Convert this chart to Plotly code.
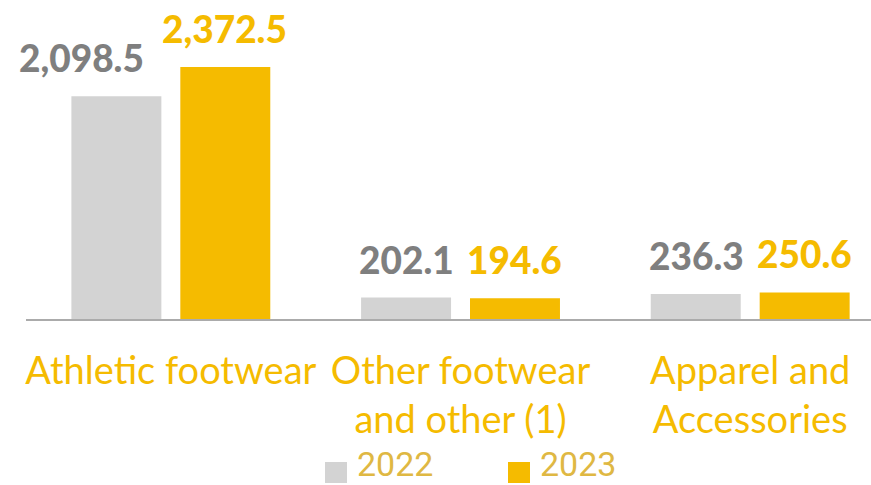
import plotly.graph_objects as go

# Net sales by product category, in millions
categories = ["Athletic footwear", "Other footwear<br>and other (1)", "Apparel and<br>Accessories"]
series_names = ["2022", "2023"]
sales_2022 = [2098.5, 202.1, 236.3]
sales_2023 = [2372.5, 194.6, 250.6]

bar_colors = ["#d3d3d3", "#f5bb00"]
label_colors = ["#7f7f7f", "#f5bb00"]
legend_text_color = "#dfb843"

W, H = 871, 485
L, R, T, B = 26, 0, 0, 166
plot_w, plot_h = W - L - R, H - T - B

fig = go.Figure()
for name, vals, col in zip(series_names, [sales_2022, sales_2023], bar_colors):
    fig.add_trace(go.Bar(x=categories, y=vals, name=name, marker_color=col,
                         marker_line_width=0, showlegend=False))

# value labels above each bar
annotations = []
for s, (vals, col) in enumerate(zip([sales_2022, sales_2023], label_colors)):
    for i, (cat, v) in enumerate(zip(categories, vals)):
        xshift = -54 if s == 0 else 54
        if s == 0 and i == 0:
            xshift -= 35
        annotations.append(dict(
            x=cat, y=v, xref="x", yref="y", text=f"{v:,.1f}", showarrow=False,
            xanchor="center", yanchor="bottom", xshift=xshift, yshift=14,
            font=dict(family="Lato", size=37, color=col, weight=900)))

# custom legend at the bottom
def px_to_paper(px, py):
    return (px - L) / plot_w, (H - B - py) / plot_h

shapes = []
for name, col, sx in zip(series_names, bar_colors, [325, 508]):
    x0, y0 = px_to_paper(sx, 483)
    x1, y1 = px_to_paper(sx + 22, 462)
    shapes.append(dict(type="rect", xref="paper", yref="paper", x0=x0, x1=x1,
                       y0=y0, y1=y1, fillcolor=col, line_width=0))
    tx, ty = px_to_paper(sx + 30, 464)
    annotations.append(dict(x=tx, y=ty, xref="paper", yref="paper", text=name,
                            showarrow=False, xanchor="left", yanchor="middle",
                            font=dict(family="Roboto", size=34, color=legend_text_color)))

fig.update_layout(
    width=W, height=H,
    margin=dict(l=L, r=R, t=T, b=B),
    paper_bgcolor="white", plot_bgcolor="white",
    barmode="group", bargap=0.248, bargroupgap=0.174,
    annotations=annotations, shapes=shapes,
    xaxis=dict(range=[-0.5, 2.417], showgrid=False, showline=True,
               linecolor="#ababab", linewidth=2, ticks="",
               tickfont=dict(family="Lato", size=38, color="#f5bb00"),
               ticklabelstandoff=17),
    yaxis=dict(range=[0, 3004], visible=False, showgrid=False, zeroline=False),
)

fig.write_html("out.html")
